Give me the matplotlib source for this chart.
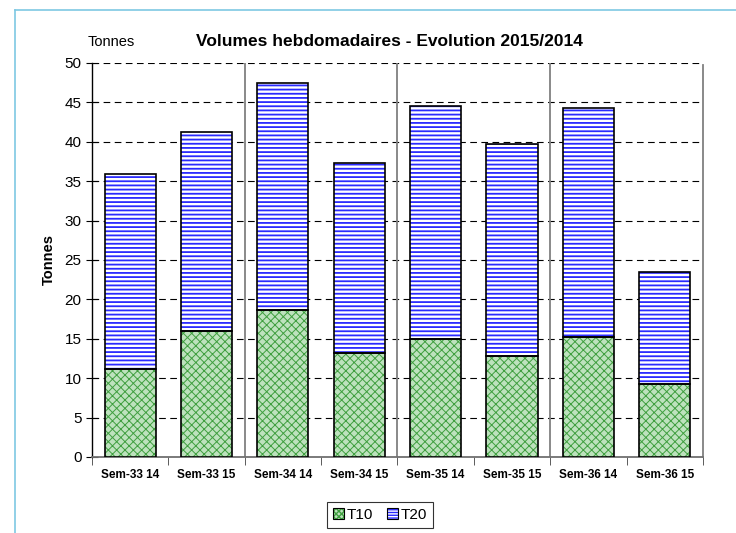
import matplotlib
matplotlib.use("Agg")
import matplotlib.pyplot as plt
from matplotlib.patches import Patch
from matplotlib.lines import Line2D
from matplotlib.legend_handler import HandlerTuple
import numpy as np

plt.rcParams['font.family'] = ['Liberation Sans', 'DejaVu Sans']

categories = ["Sem-33 14", "Sem-33 15", "Sem-34 14", "Sem-34 15",
              "Sem-35 14", "Sem-35 15", "Sem-36 14", "Sem-36 15"]
t10 = [11.2, 16.0, 18.7, 13.2, 15.0, 12.8, 15.2, 9.3]
totals = [35.9, 41.2, 47.5, 37.3, 44.5, 39.7, 44.3, 23.5]
t20 = [tot - a for tot, a in zip(totals, t10)]
yticks = list(range(0, 55, 5))

fig = plt.figure(figsize=(7.36, 5.33), dpi=100)
ax = fig.add_axes([0.125, 0.1426, 0.83, 0.7394])

x = np.arange(len(categories))
w = 0.67
g_face, g_hatch = '#bde2bd', '#3f9f3f'
b_face, b_hatch = 'white', '#2a2aff'

with plt.rc_context({'hatch.linewidth': 0.7}):
    ax.bar(x, t10, w, color=g_face, edgecolor=g_hatch, hatch='xxxx', linewidth=0, zorder=3)
    h10 = Patch(facecolor=g_face, edgecolor=g_hatch, hatch='xxxxxx', linewidth=0)
ax.bar(x, t10, w, fill=False, edgecolor='black', linewidth=1.2, zorder=4)
with plt.rc_context({'hatch.linewidth': 1.3}):
    ax.bar(x, t20, w, bottom=t10, color=b_face, edgecolor=b_hatch, hatch='----', linewidth=0, zorder=3)
    h20 = Patch(facecolor=b_face, edgecolor=b_hatch, hatch='------', linewidth=0)
ax.bar(x, t20, w, bottom=t10, fill=False, edgecolor='black', linewidth=1.2, zorder=4)
outline = Patch(fill=False, edgecolor='black', linewidth=0.8)

ax.set_xlim(-0.5, len(categories) - 0.5)
ax.set_ylim(0, 50)
ax.set_yticks(yticks)
for yv in yticks[1:]:
    ax.axhline(yv, color='black', linestyle=(0, (6, 4)), linewidth=0.8, zorder=1)
for xv in [1.5, 3.5, 5.5]:
    ax.axvline(xv, color='#808080', linewidth=1.3, zorder=2)

ax.spines['top'].set_visible(False)
ax.spines['left'].set_color('black')
ax.spines['left'].set_linewidth(1.0)
ax.spines['bottom'].set_color('#707070')
ax.spines['bottom'].set_linewidth(1.3)
ax.spines['right'].set_color('#808080')
ax.spines['right'].set_linewidth(1.3)
ax.spines['right'].set_bounds(0, 49.7)

ax.set_xticks(x)
ax.set_xticklabels(categories, fontsize=8.5, fontweight='bold')
ax.set_xticks(np.arange(-0.5, len(categories), 1), minor=True)
ax.tick_params(axis='x', which='major', length=0, pad=9)
ax.tick_params(axis='x', which='minor', length=6, direction='out', color='#404040')
ax.tick_params(axis='y', direction='inout', length=9, labelsize=11, pad=3)

ax.set_ylabel("Tonnes", fontsize=10.5, fontweight='bold', labelpad=6)

fig.text(111 / 736, 1 - 42 / 533, "Tonnes", fontsize=10.5, ha='center', va='center')
fig.text(389 / 736, 1 - 42 / 533, "Volumes hebdomadaires - Evolution 2015/2014",
         fontsize=12.5, fontweight='bold', ha='center', va='center')

leg = fig.legend([(h10, outline), (h20, outline)], ["T10", "T20"], loc='center',
                 bbox_to_anchor=(380 / 736, 1 - 515 / 533),
                 handler_map={tuple: HandlerTuple(ndivide=1, pad=0)},
                 ncol=2, fontsize=11, frameon=True, fancybox=False, handlelength=0.7,
                 handleheight=0.7, handletextpad=0.2, columnspacing=0.9, borderpad=0.4,
                 borderaxespad=0)
leg.get_frame().set_edgecolor('black')
leg.get_frame().set_linewidth(0.8)

# light blue frame on top and left
fig.add_artist(Line2D([15 / 736, 1], [1 - 10 / 533, 1 - 10 / 533], color='#7ec8e3',
                      linewidth=1.2, transform=fig.transFigure))
fig.add_artist(Line2D([15 / 736, 15 / 736], [0, 1 - 10 / 533], color='#7ec8e3',
                      linewidth=1.2, transform=fig.transFigure))

fig.savefig("out.png", dpi=100)
